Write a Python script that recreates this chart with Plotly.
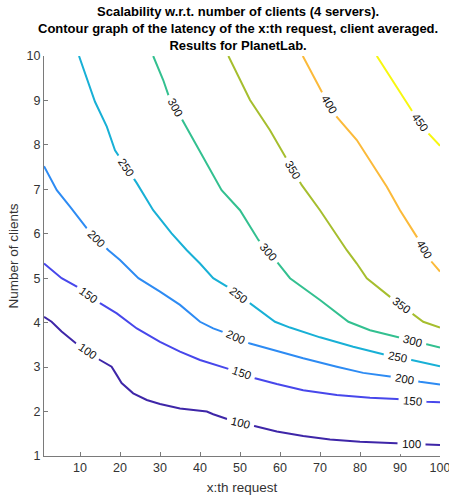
import math
import plotly.graph_objects as go

# ---- data ----
levels = [100, 150, 200, 250, 300, 350, 400, 450]

x100 = [1, 2.9, 5.4, 9.2, 15, 17.9, 19.2, 20.4, 23.3, 26.7, 30, 35, 41.7, 43.3, 47.5, 53.3, 59.2, 65.8, 72.5, 80, 89.2, 96.7, 100]
y100 = [4.13, 4.02, 3.80, 3.52, 3.16, 3.01, 2.82, 2.64, 2.41, 2.26, 2.17, 2.07, 2.0, 1.94, 1.81, 1.68, 1.55, 1.45, 1.37, 1.32, 1.28, 1.26, 1.25]

x150 = [1, 5.4, 9.2, 15, 19.2, 24.2, 30, 35, 40, 47.5, 53.75, 59.2, 65.8, 74.2, 82.5, 89.2, 96.7, 100]
y150 = [5.33, 5.0, 4.81, 4.44, 4.21, 3.87, 3.57, 3.35, 3.16, 2.95, 2.75, 2.62, 2.48, 2.37, 2.31, 2.28, 2.22, 2.21]

x200 = [1, 4.2, 7.5, 11.7, 17.1, 20, 24.6, 30, 35, 40, 43.3, 46.7, 52.5, 58.3, 65.8, 74.2, 80.8, 87.5, 95, 100]
y200 = [7.52, 6.98, 6.61, 6.12, 5.63, 5.41, 5.0, 4.70, 4.40, 4.02, 3.87, 3.76, 3.53, 3.38, 3.20, 3.01, 2.87, 2.79, 2.67, 2.61]

x250 = [9.75, 11.25, 13.75, 16.7, 18.75, 24.2, 28.3, 32.9, 36.7, 40, 43.3, 47.5, 52.9, 58.75, 62.5, 70, 78.3, 85.8, 92.9, 100]
y250 = [10, 9.61, 8.97, 8.41, 7.88, 7.14, 6.53, 6.01, 5.63, 5.33, 5.0, 4.77, 4.40, 4.02, 3.89, 3.67, 3.46, 3.29, 3.16, 3.02]

x300 = [28.3, 30.8, 32.1, 35.8, 40.8, 45.4, 50, 54.6, 59.6, 62.5, 70, 77.1, 82.5, 89.2, 96.7, 100]
y300 = [10, 9.46, 9.12, 8.52, 7.73, 6.98, 6.53, 5.86, 5.33, 5.0, 4.51, 4.02, 3.83, 3.68, 3.50, 3.44]

x350 = [47.1, 50, 52.5, 57.5, 61.7, 65.4, 70, 73.75, 76.7, 79.2, 81.7, 87.5, 95.8, 100]
y350 = [10, 9.46, 9.01, 8.33, 7.66, 7.10, 6.53, 6.01, 5.63, 5.33, 5.0, 4.58, 4.02, 3.89]

x400 = [65.7, 67.9, 70.4, 74.2, 79.2, 86.7, 90, 94.2, 97.9, 100]
y400 = [10, 9.61, 9.2, 8.63, 8.11, 7.06, 6.53, 5.93, 5.37, 5.15]

x450 = [84.2, 87.5, 90.8, 92.9, 97.1, 100]
y450 = [10, 9.53, 9.08, 8.78, 8.26, 7.98]

# x positions (along each contour) where the level labels sit
label_x = {
    100: [11.8, 50.2, 92.9],
    150: [12.1, 50.4, 93.1],
    200: [14.2, 48.9, 91.0],
    250: [21.5, 49.6, 89.4],
    300: [33.75, 57.1, 93.2],
    350: [63.2, 90.25],
    400: [72.25, 96.0],
    450: [95.0],
}

x_ticks = [10, 20, 30, 40, 50, 60, 70, 80, 90, 100]
y_ticks = [1, 2, 3, 4, 5, 6, 7, 8, 9, 10]

title_lines = ["Scalability w.r.t. number of clients (4 servers).",
               "Contour graph of the latency of the x:th request, client averaged.",
               "Results for PlanetLab."]

colors = ["#3E26A8", "#4747EB", "#2D8BF3", "#18B0D6", "#33C090", "#A6BE2E", "#FBBA3A", "#F7F710"]

lines = {100: (x100, y100), 150: (x150, y150), 200: (x200, y200), 250: (x250, y250),
         300: (x300, y300), 350: (x350, y350), 400: (x400, y400), 450: (x450, y450)}

# ---- layout geometry ----
W, H = 449, 497
ML, MR, MT, MB = 44, 9, 56, 41
XR = [1, 100]
YR = [1, 10]
pxx = (W - ML - MR) / (XR[1] - XR[0])
pxy = (H - MT - MB) / (YR[1] - YR[0])

fig = go.Figure()
annotations = []
font = "Liberation Sans, Arial, Helvetica, sans-serif"

for lev, col in zip(levels, colors):
    xs, ys = lines[lev]
    fig.add_trace(go.Scatter(x=xs, y=ys, mode="lines",
                             line=dict(color=col, width=2),
                             hoverinfo="skip", showlegend=False))
    for lx in label_x[lev]:
        for i in range(len(xs) - 1):
            if xs[i] <= lx <= xs[i + 1]:
                t = (lx - xs[i]) / (xs[i + 1] - xs[i])
                ly = ys[i] + t * (ys[i + 1] - ys[i])
                dx = (xs[i + 1] - xs[i]) * pxx
                dy = (ys[i + 1] - ys[i]) * pxy
                ang = math.degrees(math.atan2(-dy, dx))
                break
        annotations.append(dict(x=lx, y=ly, xref="x", yref="y", text=str(lev),
                                showarrow=False, textangle=ang,
                                font=dict(family=font, size=11.5, color="#111111"),
                                bgcolor="white", borderpad=4))

# title as an annotation above the plot area
annotations.append(dict(x=0.49, y=1 + 1.0 / (H - MT - MB), xref="paper", yref="paper",
                        xanchor="center", yanchor="bottom", showarrow=False,
                        text="<b>" + "<br>".join(title_lines) + "</b>",
                        font=dict(family=font, size=13, color="black")))

axis_common = dict(showgrid=False, zeroline=False, showline=True, linecolor="#7a7a7a",
                   linewidth=1, ticks="inside", ticklen=4, tickcolor="#7a7a7a",
                   tickfont=dict(family=font, size=12.5, color="#333333"), mirror=False,
                   ticklabeloverflow="allow", automargin=False)

fig.update_layout(
    width=W, height=H,
    margin=dict(l=ML, r=MR, t=MT, b=MB, pad=0, autoexpand=False),
    plot_bgcolor="white", paper_bgcolor="white",
    xaxis=dict(range=XR, tickvals=x_ticks, ticktext=[str(v) for v in x_ticks],
               title=dict(text="x:th request", font=dict(family=font, size=13.5, color="#333333"), standoff=8),
               **axis_common),
    yaxis=dict(range=YR, tickvals=y_ticks, ticktext=[str(v) for v in y_ticks],
               title=dict(text="Number of clients", font=dict(family=font, size=13.5, color="#333333"), standoff=4),
               **axis_common),
    annotations=annotations,
)

fig.write_html("out.html")
